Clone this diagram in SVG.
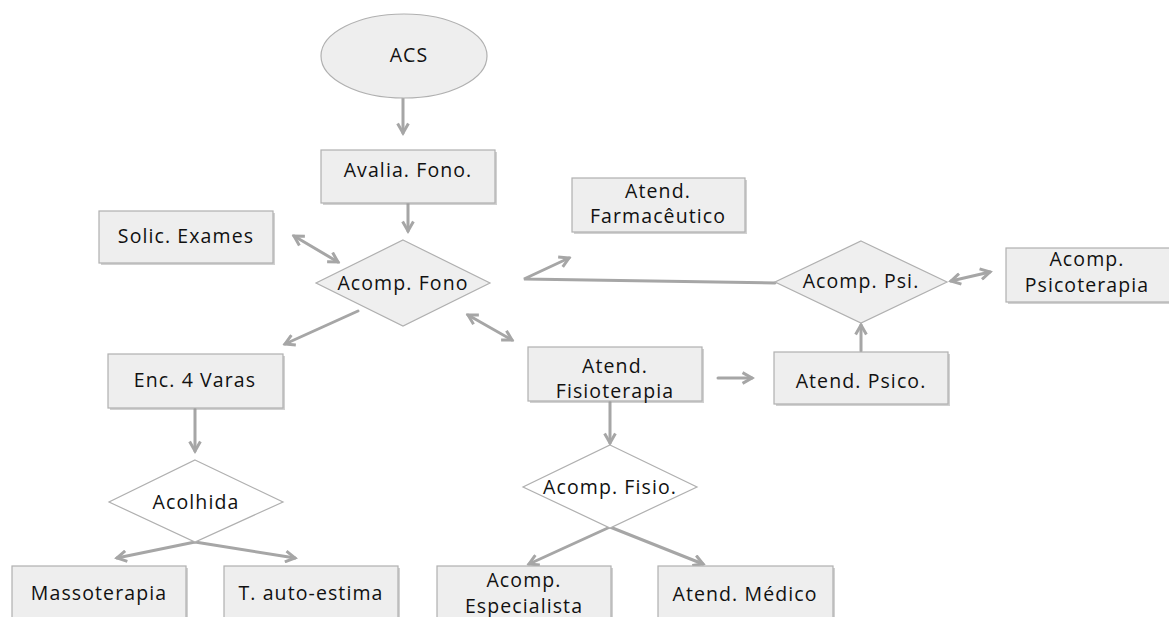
<svg xmlns="http://www.w3.org/2000/svg" width="1169" height="617" viewBox="0 0 1169 617">
<style>
.box{fill:#eeeeee;stroke:#b0b0b0;stroke-width:1.2}
.sh{fill:#9a9a9a;opacity:0.45}
.dg{fill:#efefef;stroke:#b0b0b0;stroke-width:1.2}
.dw{fill:#ffffff;stroke:#b0b0b0;stroke-width:1.2}
.t{font-family:"Open Sans","DejaVu Sans",sans-serif;font-size:19.5px;letter-spacing:1.1px;fill:#111;text-anchor:middle}
.c{fill:none;stroke:#a6a6a6;stroke-width:3;stroke-linecap:round}
</style>
<defs>
<marker id="ah" viewBox="0 0 10 10" refX="8" refY="5" markerWidth="4.5" markerHeight="4.5" orient="auto-start-reverse" markerUnits="strokeWidth">
<path d="M1,1 L8,5 L1,9" fill="none" stroke="#a6a6a6" stroke-width="2.2" stroke-linejoin="miter"/>
</marker>
</defs>
<rect width="1169" height="617" fill="#ffffff"/>

<g id="connectors">
<line class="c" x1="403" y1="98" x2="403" y2="133" marker-end="url(#ah)"/>
<line class="c" x1="408" y1="196" x2="408" y2="231" marker-end="url(#ah)"/>
<line class="c" x1="294" y1="236" x2="338" y2="262" marker-start="url(#ah)" marker-end="url(#ah)"/>
<polyline class="c" points="775,283 524,279 569,258" marker-end="url(#ah)"/>
<line class="c" x1="951" y1="281" x2="990" y2="272" marker-start="url(#ah)" marker-end="url(#ah)"/>
<line class="c" x1="861" y1="351" x2="861" y2="325" marker-end="url(#ah)"/>
<line class="c" x1="718" y1="378" x2="752" y2="378" marker-end="url(#ah)"/>
<line class="c" x1="468" y1="315" x2="512" y2="340" marker-start="url(#ah)" marker-end="url(#ah)"/>
<line class="c" x1="610" y1="402" x2="610" y2="443" marker-end="url(#ah)"/>
<line class="c" x1="610" y1="527" x2="529" y2="564" marker-end="url(#ah)"/>
<line class="c" x1="610" y1="527" x2="703" y2="564" marker-end="url(#ah)"/>
<line class="c" x1="358" y1="311" x2="285" y2="344" marker-end="url(#ah)"/>
<line class="c" x1="195" y1="409" x2="195" y2="451" marker-end="url(#ah)"/>
<line class="c" x1="195" y1="542" x2="117" y2="558" marker-end="url(#ah)"/>
<line class="c" x1="195" y1="542" x2="295" y2="558" marker-end="url(#ah)"/>
</g>

<g id="acs">
<ellipse cx="404" cy="56" rx="83" ry="42" fill="#eeeeee" stroke="#b0b0b0" stroke-width="1.2"/>
<text class="t" x="409" y="62">ACS</text>
</g>

<g id="avalia">
<rect class="sh" x="323" y="152" width="174" height="53"/>
<rect class="box" x="321" y="150" width="174" height="53"/>
<text class="t" x="408" y="177">Avalia. Fono.</text>
</g>

<g id="solic">
<rect class="sh" x="101" y="213" width="174" height="52"/>
<rect class="box" x="99" y="211" width="174" height="52"/>
<text class="t" x="186" y="243">Solic. Exames</text>
</g>

<g id="acompfono">
<polygon class="dg" points="403,240 490,283 403,326 316,283"/>
<text class="t" x="403" y="290">Acomp. Fono</text>
</g>

<g id="farmaceutico">
<rect class="sh" x="574" y="180" width="173" height="54"/>
<rect class="box" x="572" y="178" width="173" height="54"/>
<text class="t" x="658" y="198">Atend.</text>
<text class="t" x="658" y="223">Farmacêutico</text>
</g>

<g id="acomppsi">
<polygon class="dg" points="861,241 947,282 861,323 775,282"/>
<text class="t" x="861" y="288">Acomp. Psi.</text>
</g>

<g id="psicoterapia">
<rect class="sh" x="1008" y="250" width="165" height="54"/>
<rect class="box" x="1006" y="248" width="165" height="54"/>
<text class="t" x="1087" y="266">Acomp.</text>
<text class="t" x="1087" y="292">Psicoterapia</text>
</g>

<g id="atendpsico">
<rect class="sh" x="776" y="354" width="174" height="52"/>
<rect class="box" x="774" y="352" width="174" height="52"/>
<text class="t" x="861" y="388">Atend. Psico.</text>
</g>

<g id="fisioterapia">
<rect class="sh" x="530" y="349" width="174" height="54"/>
<rect class="box" x="528" y="347" width="174" height="54"/>
<text class="t" x="615" y="373">Atend.</text>
<text class="t" x="615" y="398">Fisioterapia</text>
</g>

<g id="acompfisio">
<polygon class="dw" points="610,445 697,487 610,528 523,487"/>
<text class="t" x="610" y="494">Acomp. Fisio.</text>
</g>

<g id="especialista">
<rect class="sh" x="439" y="568" width="174" height="60"/>
<rect class="box" x="437" y="566" width="174" height="60"/>
<text class="t" x="524" y="587">Acomp.</text>
<text class="t" x="524" y="613">Especialista</text>
</g>

<g id="medico">
<rect class="sh" x="660" y="568" width="175" height="60"/>
<rect class="box" x="658" y="566" width="175" height="60"/>
<text class="t" x="745" y="601">Atend. Médico</text>
</g>

<g id="enc4varas">
<rect class="sh" x="110" y="356" width="175" height="54"/>
<rect class="box" x="108" y="354" width="175" height="54"/>
<text class="t" x="195" y="387">Enc. 4 Varas</text>
</g>

<g id="acolhida">
<polygon class="dw" points="195,460 283,502 195,542 109,502"/>
<text class="t" x="196" y="509">Acolhida</text>
</g>

<g id="massoterapia">
<rect class="sh" x="14" y="568" width="174" height="60"/>
<rect class="box" x="12" y="566" width="174" height="60"/>
<text class="t" x="99" y="600">Massoterapia</text>
</g>

<g id="autoestima">
<rect class="sh" x="226" y="568" width="174" height="60"/>
<rect class="box" x="224" y="566" width="174" height="60"/>
<text class="t" x="311" y="600">T. auto-estima</text>
</g>
</svg>
